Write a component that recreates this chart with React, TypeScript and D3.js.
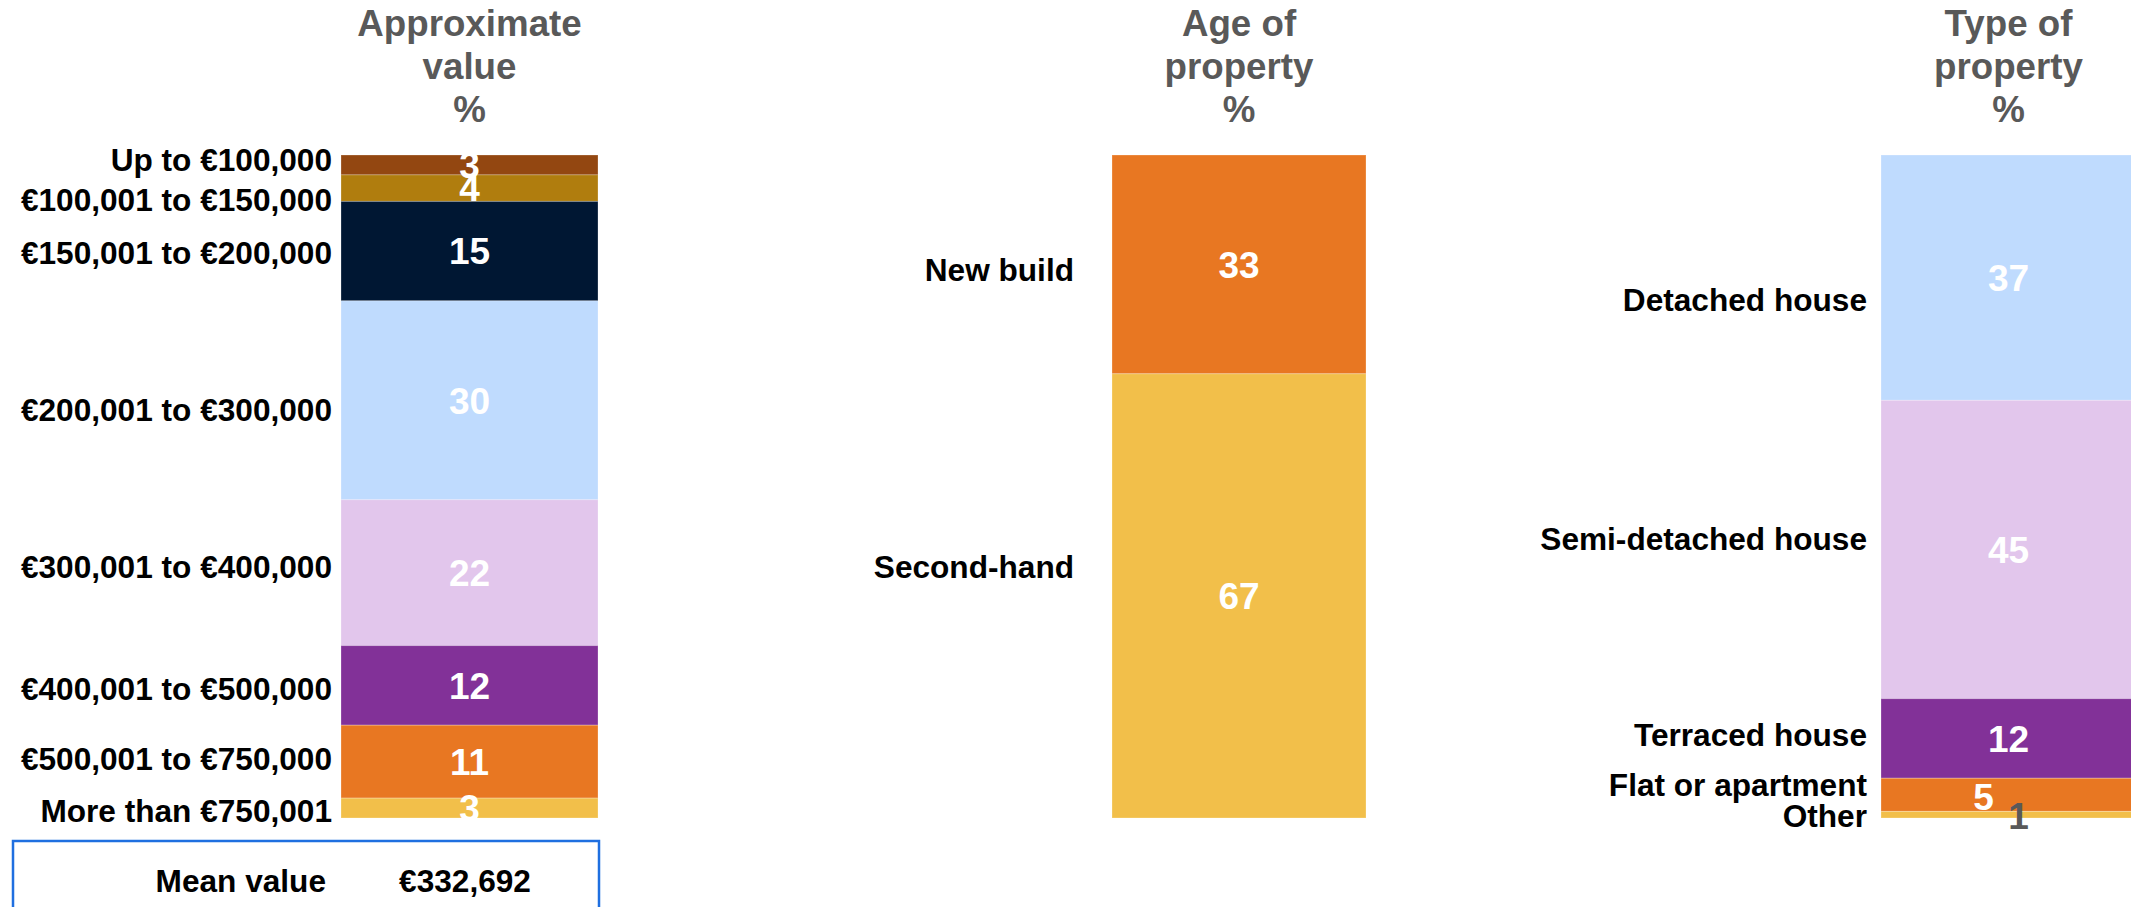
import React, { useEffect } from "react";
import * as d3 from "d3";

// ---------- data ----------
const valueTitle = ["Approximate", "value", "%"];
const valueCats = [
  "Up to €100,000",
  "€100,001 to €150,000",
  "€150,001 to €200,000",
  "€200,001 to €300,000",
  "€300,001 to €400,000",
  "€400,001 to €500,000",
  "€500,001 to €750,000",
  "More than €750,001",
];
const valueShares = [3, 4, 15, 30, 22, 12, 11, 3];

const ageTitle = ["Age of", "property", "%"];
const ageCats = ["New build", "Second-hand"];
const ageShares = [33, 67];

const typeTitle = ["Type of", "property", "%"];
const typeCats = ["Detached house", "Semi-detached house", "Terraced house", "Flat or apartment", "Other"];
const typeShares = [37, 45, 12, 5, 1];

const meanLabel = "Mean value";
const meanValue = "€332,692";

// ---------- styles / layout ----------
const valueColors = ["#934711", "#B07D0E", "#001733", "#BFDBFE", "#E2C6EC", "#823198", "#E87722", "#F2BF4A"];
const ageColors = ["#E87722", "#F2BF4A"];
const typeColors = ["#BFDBFE", "#E2C6EC", "#823198", "#E87722", "#F2BF4A"];

const valueLabelNudge = [-5, 12, 2, 10, -6, 4, -3, 3];
const ageLabelNudge = [6, -29];
const typeLabelNudge = [22, -11, -4, -10, 1];

const typeValueDx = [0, 0, 0, -25, 10];
const typeValueDy = [0, 0, 0, 2, 1];
const typeValueColors = ["#fff", "#fff", "#fff", "#fff", "#595959"];

const FONT = "'Liberation Sans', Arial, Helvetica, sans-serif";
const W = 2131;
const H = 907;

type Panel = {
  title: string[];
  cats: string[];
  shares: number[];
  colors: string[];
  nudge: number[];
  barX: number;
  barW: number;
  labelRight: number;
  vdx?: number[];
  vdy?: number[];
  vcolors?: string[];
};

const panels: Panel[] = [
  { title: valueTitle, cats: valueCats, shares: valueShares, colors: valueColors, nudge: valueLabelNudge, barX: 341, barW: 257, labelRight: 332 },
  { title: ageTitle, cats: ageCats, shares: ageShares, colors: ageColors, nudge: ageLabelNudge, barX: 1112, barW: 254, labelRight: 1074 },
  { title: typeTitle, cats: typeCats, shares: typeShares, colors: typeColors, nudge: typeLabelNudge, barX: 1881, barW: 255, labelRight: 1867, vdx: typeValueDx, vdy: typeValueDy, vcolors: typeValueColors },
];

const y = d3.scaleLinear().domain([0, 100]).range([155, 818]);

const LABEL_FS = 31;
const LABEL_SX = 1.02;
const VALUE_FS = 37;
const VALUE_SX = 1.0;
const TITLE_FS = 36;
const TITLE_SX = 1.02;

function SText(props: {
  x: number; y: number; fs: number; sx: number; anchor: string; fill: string; children: React.ReactNode;
}) {
  return (
    <text
      transform={`translate(${props.x},${props.y}) scale(${props.sx},1)`}
      fontFamily={FONT}
      fontWeight="bold"
      fontSize={props.fs}
      textAnchor={props.anchor}
      fill={props.fill}
    >
      {props.children}
    </text>
  );
}

function PanelView({ p }: { p: Panel }) {
  const ends = Array.from(d3.cumsum(p.shares));
  const starts = ends.map((e, i) => e - p.shares[i]);
  const cx = p.barX + p.barW / 2;
  return (
    <g>
      {p.title.map((t, i) => (
        <SText key={"t" + i} x={cx} y={36 + i * 43} fs={TITLE_FS} sx={TITLE_SX} anchor="middle" fill="#595959">
          {t}
        </SText>
      ))}
      {p.shares.map((s, i) => (
        <rect
          key={"r" + i}
          x={p.barX}
          y={y(starts[i])}
          width={p.barW}
          height={y(ends[i]) - y(starts[i])}
          fill={p.colors[i]}
          stroke="#ffffff"
          strokeOpacity={0.25}
          strokeWidth={1}
        />
      ))}
      {p.shares.map((s, i) => {
        const mid = (y(starts[i]) + y(ends[i])) / 2;
        const dx = p.vdx ? p.vdx[i] : 0;
        const dy = p.vdy ? p.vdy[i] : 0;
        const fill = p.vcolors ? p.vcolors[i] : "#fff";
        return (
          <SText key={"v" + i} x={cx + dx} y={mid + dy + VALUE_FS * 0.358} fs={VALUE_FS} sx={VALUE_SX} anchor="middle" fill={fill}>
            {s}
          </SText>
        );
      })}
      {p.cats.map((c, i) => {
        const mid = (y(starts[i]) + y(ends[i])) / 2 + p.nudge[i];
        return (
          <SText key={"c" + i} x={p.labelRight} y={mid + LABEL_FS * 0.358} fs={LABEL_FS} sx={LABEL_SX} anchor="end" fill="#000">
            {c}
          </SText>
        );
      })}
    </g>
  );
}

export default function App() {
  useEffect(() => {
    document.body.style.margin = "0";
    document.body.style.overflow = "hidden";
  }, []);
  return (
    <svg width={W} height={H} style={{ position: "absolute", left: 0, top: 0, background: "#fff" }}>
      <rect x={0} y={0} width={W} height={H} fill="#fff" />
      {panels.map((p, i) => (
        <PanelView key={i} p={p} />
      ))}
      <rect x={13} y={841} width={586} height={120} fill="none" stroke="#1F6FE0" strokeWidth={2.5} />
      <SText x={326} y={892} fs={LABEL_FS} sx={LABEL_SX} anchor="end" fill="#000">
        {meanLabel}
      </SText>
      <SText x={465} y={892} fs={LABEL_FS} sx={LABEL_SX} anchor="middle" fill="#000">
        {meanValue}
      </SText>
    </svg>
  );
}
